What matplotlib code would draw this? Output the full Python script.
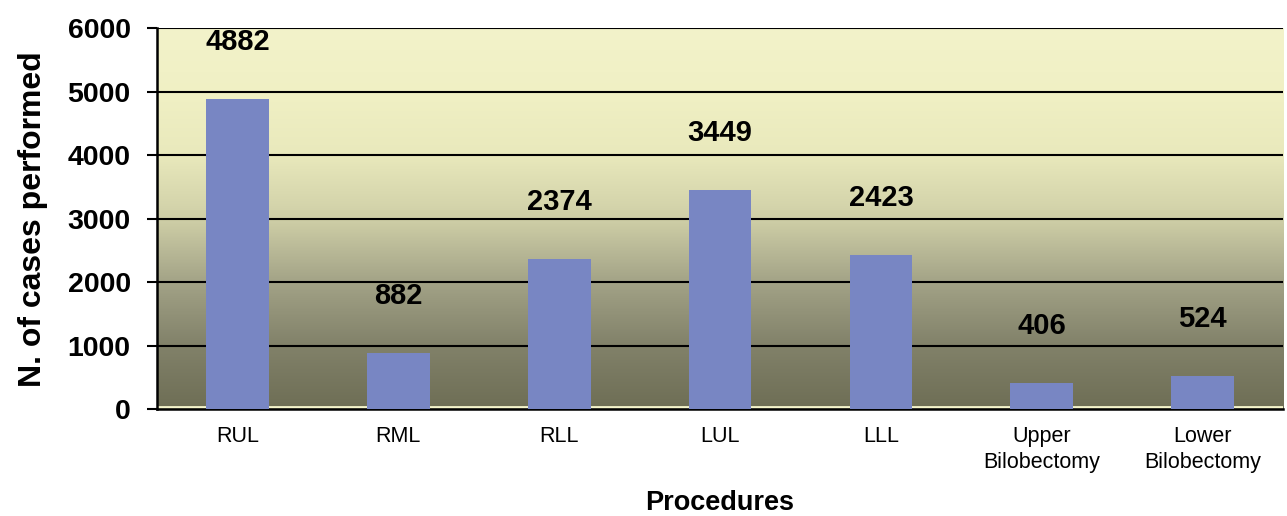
import numpy as np
import matplotlib.pyplot as plt
from matplotlib.colors import LinearSegmentedColormap

plt.rcParams['font.family'] = ['Liberation Sans', 'DejaVu Sans']

procedures = ["RUL", "RML", "RLL", "LUL", "LLL", "Upper\nBilobectomy", "Lower\nBilobectomy"]
cases = [4882, 882, 2374, 3449, 2423, 406, 524]
yticks = [0, 1000, 2000, 3000, 4000, 5000, 6000]

fig = plt.figure(figsize=(12.87, 5.16), dpi=100)
ax = fig.add_axes([0.122, 0.207, 0.875, 0.738])

# background gradient, light yellow at top to dark olive at bottom
cmap = LinearSegmentedColormap.from_list("bg", [
    (0.0, "#6e6e55"), (0.17, "#82826a"), (0.33, "#a2a286"),
    (0.5, "#cfcfa7"), (0.67, "#e9e9bc"), (0.83, "#f0f0c4"), (1.0, "#f3f3ca")])
grad = np.linspace(0, 1, 256).reshape(-1, 1)
ax.imshow(grad, aspect="auto", cmap=cmap, origin="lower",
          extent=[0, 1, 0, 1], transform=ax.transAxes, zorder=0)

x = np.arange(len(procedures))
ax.bar(x, cases, width=0.39, color="#7886c3", zorder=3)

for xi, v in zip(x, cases):
    ax.annotate(str(v), (xi, v), xytext=(0, 41), textcoords="offset points",
                ha="center", va="center", fontsize=21, fontweight="bold", zorder=4)

ax.set_xlim(-0.5, len(procedures) - 0.5)
ax.set_ylim(0, 6000)
ax.set_yticks(yticks)
ax.set_yticklabels([str(t) for t in yticks], fontsize=20.5, fontweight="bold")
ax.set_xticks(x)
ax.set_xticklabels(procedures, fontsize=15.5, linespacing=1.35)
ax.tick_params(axis="x", length=0, pad=12)
ax.tick_params(axis="y", direction="out", length=7, width=1.5, pad=12)
ax.yaxis.grid(True, color="black", linewidth=1.5, zorder=1)
ax.set_axisbelow(True)

for s in ["top", "right"]:
    ax.spines[s].set_visible(False)
ax.spines["left"].set_linewidth(1.8)
ax.spines["bottom"].set_linewidth(1.8)
ax.axhline(30, color="#f6f6cc", linewidth=2, zorder=2)

ax.set_ylabel("N. of cases performed", fontsize=23, fontweight="bold", labelpad=14)
ax.set_xlabel("Procedures", fontsize=19.5, fontweight="bold", labelpad=12)

fig.savefig("out.png", dpi=100)
